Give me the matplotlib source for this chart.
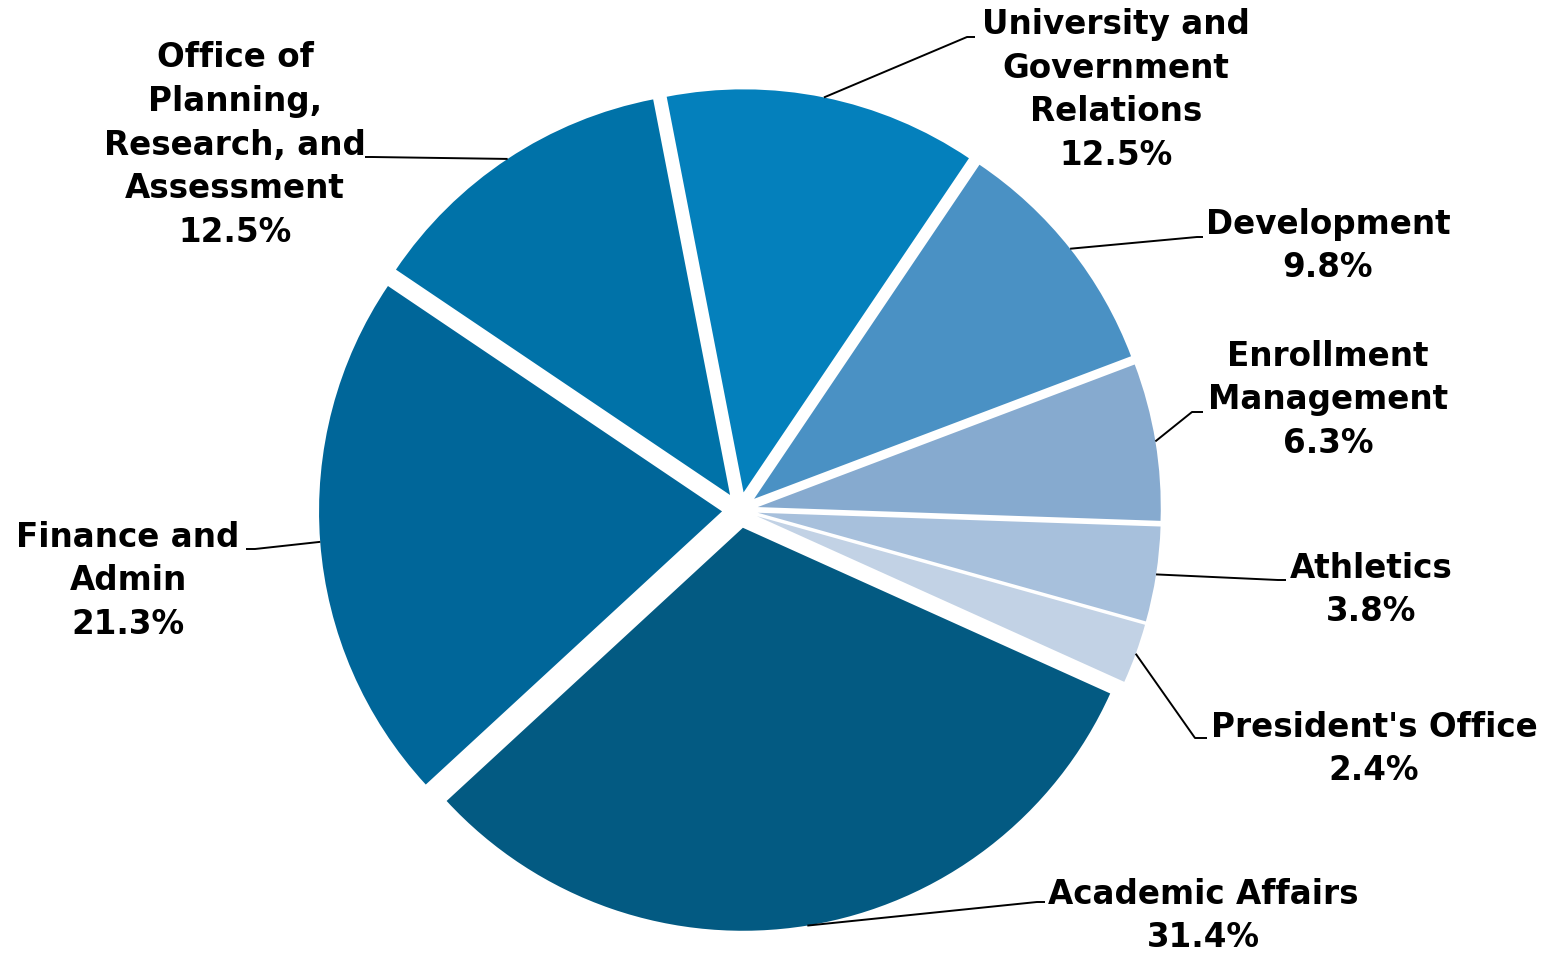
import numpy as np
import matplotlib
matplotlib.use("Agg")
import matplotlib.pyplot as plt

# Share of budget by division
divisions = [
    "University and\nGovernment\nRelations",
    "Development",
    "Enrollment\nManagement",
    "Athletics",
    "President's Office",
    "Academic Affairs",
    "Finance and\nAdmin",
    "Office of\nPlanning,\nResearch, and\nAssessment",
]
shares = [12.5, 9.8, 6.3, 3.8, 2.4, 31.4, 21.3, 12.5]
colors = ["#0480BC", "#4A91C4", "#86AACF", "#A7C0DC",
          "#C2D2E5", "#035A82", "#006699", "#0072A8"]

# label layout: text centre (x, y) and elbow of the leader (x, y), in pixels
label_pos = [(1116, 90), (1328, 246), (1328, 400), (1371, 590),
             (1374, 749), (1203, 916), (128, 581), (235, 145)]
elbow_pos = [(967, 37), (1197, 237), (1192, 412), (1278, 580),
             (1195, 738), (1037, 902), (255, 549), (372, 157)]
elbow_end = [975, 1203, 1203, 1286, 1207, 1045, 246, 365]

W, H = 1556, 957
fig = plt.figure(figsize=(W / 100, H / 100), dpi=100)
ax = fig.add_axes([0, 0, 1, 1])

cx, cy = 740, H - 510
R = 403
start = 101
gap = 18  # explode distance in pixels

wedges, _ = ax.pie(shares, colors=colors, startangle=start, counterclock=False,
                   radius=R, center=(cx, cy), explode=[gap] * len(shares),
                   wedgeprops=dict(linewidth=0), frame=True)
ax.set_xlim(0, W)
ax.set_ylim(0, H)
ax.axis("off")

font = dict(family="DejaVu Sans", weight="bold", fontsize=23.5)

for w, name, val, (tx, ty), (ex, ey), xe in zip(
        wedges, divisions, shares, label_pos, elbow_pos, elbow_end):
    mid = np.deg2rad((w.theta1 + w.theta2) / 2)
    ox, oy = w.center
    px = ox + R * np.cos(mid)
    py = oy + R * np.sin(mid)
    ax.plot([px, ex, xe], [py, H - ey, H - ey], color="black", lw=1.4,
            solid_capstyle="butt")
    ax.text(tx, H - ty, f"{name}\n{val:.1f}%", ha="center", va="center",
            multialignment="center", linespacing=1.42, **font)

fig.savefig("out.png", dpi=100)
